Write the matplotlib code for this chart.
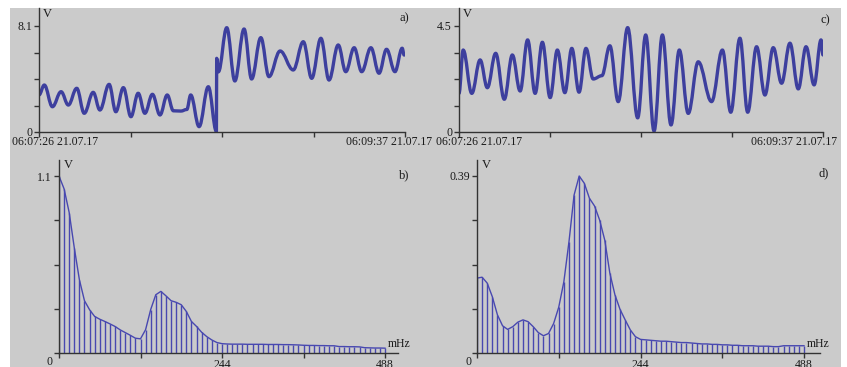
import numpy as np
import matplotlib.pyplot as plt
from matplotlib.path import Path
from matplotlib.patches import PathPatch, Rectangle

plt.rcParams['font.family'] = ['Liberation Serif', 'DejaVu Serif']

W, H = 847, 367
BLUE = '#3d3f9e'
BAR = '#4848b0'
AXC = '#333333'
TXT = '#1a1a1a'

# -----------------------------
# data
# -----------------------------
# a) signal, seconds after 06:07:26, volts (extrema of the waveform)
t_a = [0.0, 1.9, 4.8, 7.9, 10.5, 13.5, 16.2, 19.4, 21.8, 25.1, 27.5, 30.2, 32.9,
       35.5, 37.9, 40.6, 43.3, 45.9, 48.1, 50.8, 52.9, 54.3, 57.3, 60.6, 63.5,
       63.6, 64.2, 67.2, 70.1, 73.4, 76.1, 79.4, 82.3, 86.3, 91.0, 94.6, 97.6,
       100.9, 103.8, 107.1, 109.8, 112.8, 115.5, 118.8, 121.7, 124.4, 127.4,
       130.0, 130.7]
v_a = [2.83, 3.59, 1.93, 3.08, 2.06, 3.34, 1.43, 3.03, 1.68, 3.64, 1.55, 3.39, 1.17,
       2.96, 1.43, 2.88, 1.30, 2.83, 1.62, 1.60, 1.72, 2.83, 0.41, 3.46, 0.05,
       5.63, 4.60, 7.97, 3.90, 7.87, 4.05, 7.21, 4.23, 6.19, 4.74, 6.90, 4.10,
       7.16, 3.97, 6.65, 4.61, 6.44, 4.61, 6.44, 4.49, 6.32, 4.61,
       6.40, 5.88]

# c) signal
t_c = [0.0, 1.5, 4.6, 7.6, 10.2, 13.2, 16.3, 19.2, 22.0, 24.7, 27.4, 30.0, 32.8,
       35.4, 38.1, 40.6, 43.2, 45.7, 48.3, 51.4, 54.3, 57.3, 60.7, 64.3, 67.2,
       70.2, 73.2, 76.3, 79.3, 82.5, 86.1, 90.9, 94.8, 97.8, 101.1, 103.9, 107.1,
       110.1, 113.1, 116.1, 119.1, 122.1, 124.9, 127.8, 130.3, 131.0]
v_c = [1.64, 3.48, 1.64, 3.06, 1.88, 3.34, 1.39, 3.27, 1.74, 3.91, 1.64, 3.81, 1.46,
       3.48, 1.67, 3.55, 1.69, 3.55, 2.25, 2.39, 3.66, 1.29, 4.43, 0.60, 4.12,
       0.04, 4.12, 0.30, 3.48, 0.79, 2.98, 1.29, 3.48, 0.84, 3.98, 0.84, 3.62,
       1.57, 3.58, 2.07, 3.77, 1.83, 3.62, 2.00, 3.91, 3.27]

# b) and d) spectra, 65 bins from 0 to 488 mHz
spec_b = [1.10, 1.02, 0.873, 0.654, 0.456, 0.325, 0.269, 0.227, 0.210, 0.196,
          0.181, 0.165, 0.144, 0.127, 0.110, 0.092, 0.088, 0.145, 0.270, 0.362,
          0.383, 0.355, 0.325, 0.315, 0.300, 0.258, 0.196, 0.165, 0.129, 0.102,
          0.081, 0.065, 0.058, 0.056, 0.055, 0.055, 0.055, 0.054, 0.054, 0.054,
          0.054, 0.053, 0.053, 0.053, 0.052, 0.052, 0.051, 0.050, 0.048, 0.047,
          0.047, 0.046, 0.046, 0.045, 0.045, 0.040, 0.040, 0.039, 0.039, 0.038,
          0.033, 0.032, 0.031, 0.031, 0.030]
spec_d = [0.165, 0.167, 0.154, 0.124, 0.084, 0.060, 0.052, 0.058, 0.068, 0.073,
          0.069, 0.058, 0.045, 0.038, 0.043, 0.065, 0.101, 0.157, 0.245, 0.348,
          0.390, 0.374, 0.341, 0.324, 0.293, 0.249, 0.176, 0.128, 0.096, 0.073,
          0.051, 0.036, 0.030, 0.029, 0.028, 0.027, 0.026, 0.026, 0.025, 0.024,
          0.023, 0.023, 0.022, 0.021, 0.020, 0.020, 0.019, 0.019, 0.018, 0.018,
          0.017, 0.017, 0.016, 0.016, 0.016, 0.015, 0.015, 0.015, 0.014, 0.014,
          0.016, 0.016, 0.016, 0.016, 0.016]
freq = np.linspace(0, 488, len(spec_b))

t_labels_start = '06:07:26 21.07.17'
t_labels_end = '06:09:37 21.07.17'


def box(x0, x1, y_top, y_bot):
    return [x0 / W, 1 - y_bot / H, (x1 - x0) / W, (y_bot - y_top) / H]


def ftext(x, y, s, **kw):
    kw.setdefault('color', TXT)
    kw.setdefault('fontsize', 8.5)
    fig.text(x / W, 1 - y / H, s, **kw)


def smooth_path(t, v, k=0.38):
    # cubic segments with flat tangents at each read point
    verts = [(t[0], v[0])]
    codes = [Path.MOVETO]
    for i in range(len(t) - 1):
        dt = t[i + 1] - t[i]
        verts += [(t[i] + k * dt, v[i]), (t[i + 1] - k * dt, v[i + 1]),
                  (t[i + 1], v[i + 1])]
        codes += [Path.CURVE4] * 3
    return Path(verts, codes)


def style(ax):
    ax.set_facecolor('none')
    for s in ['top', 'right']:
        ax.spines[s].set_visible(False)
    for s in ['left', 'bottom']:
        ax.spines[s].set_color(AXC)
        ax.spines[s].set_linewidth(1.0)
    ax.tick_params(direction='out', length=3.5, width=1, colors=AXC,
                   labelcolor=TXT, labelsize=8.5, pad=1.5)


fig = plt.figure(figsize=(W / 100, H / 100), dpi=100, facecolor='white')
fig.patches.append(Rectangle((10 / W, 0), (841 - 10) / W, (H - 8) / H,
                             transform=fig.transFigure, facecolor='#cbcbcb',
                             edgecolor='none', zorder=-10))

# -----------------------------
# top row: signals
# -----------------------------
for t, v, vmax, x0, x1 in [(t_a, v_a, 8.1, 39, 405), (t_c, v_c, 4.5, 459, 823)]:
    ax = fig.add_axes(box(x0, x1, 8, 132))
    style(ax)
    ax.add_patch(PathPatch(smooth_path(t, v), facecolor='none', edgecolor=BLUE,
                           lw=2.4, joinstyle='round', capstyle='round'))
    ax.set_xlim(0, 131)
    ax.set_ylim(0, vmax * 124 / 106)
    ax.set_xticks(np.linspace(0, 131, 5))
    ax.set_xticklabels([])
    ax.set_yticks(np.linspace(0, vmax, 5))
    ax.set_yticklabels(['0', '', '', '', f'{vmax:g}'])
    ax.text(0.011, 0.952, 'V', transform=ax.transAxes, ha='left', va='center',
            fontsize=9, color=TXT)

ftext(409, 18, 'a)', ha='right', va='center', fontsize=9)
ftext(830, 20, 'c)', ha='right', va='center', fontsize=9)
ftext(12, 142, t_labels_start, ha='left', va='center')
ftext(432, 142, t_labels_end, ha='right', va='center')
ftext(436, 142, t_labels_start, ha='left', va='center')
ftext(837, 142, t_labels_end, ha='right', va='center')

# -----------------------------
# bottom row: spectra
# -----------------------------
for spec, vmax, x0, x1, px488 in [(spec_b, 1.1, 59, 398, 385),
                                  (spec_d, 0.39, 477, 820, 804)]:
    ax = fig.add_axes(box(x0, x1, 160, 353))
    style(ax)
    ax.vlines(freq, 0, spec, color=BAR, lw=1.0)
    ax.plot(freq, spec, color=BAR, lw=1.0)
    ax.set_xlim(0, 488 * (x1 - x0) / (px488 - x0))
    ax.set_ylim(0, vmax * 193 / 177)
    ax.set_xticks([0, 122, 244, 366, 488])
    ax.set_xticklabels(['', '', '244', '', '488'])
    ax.tick_params(axis='x', pad=1.0)
    ax.set_yticks(np.linspace(0, vmax, 5))
    ax.set_yticklabels(['', '', '', '', f'{vmax:g}'])
    ax.text(0.013, 0.975, 'V', transform=ax.transAxes, ha='left', va='center',
            fontsize=9, color=TXT)

ftext(49, 362, '0', ha='center', va='center')
ftext(468, 362, '0', ha='center', va='center')
ftext(388, 344, 'mHz', ha='left', va='center')
ftext(807, 344, 'mHz', ha='left', va='center')
ftext(409, 175, 'b)', ha='right', va='center', fontsize=9)
ftext(829, 173, 'd)', ha='right', va='center', fontsize=9)

plt.savefig('out.png', dpi=100, facecolor=fig.get_facecolor())
